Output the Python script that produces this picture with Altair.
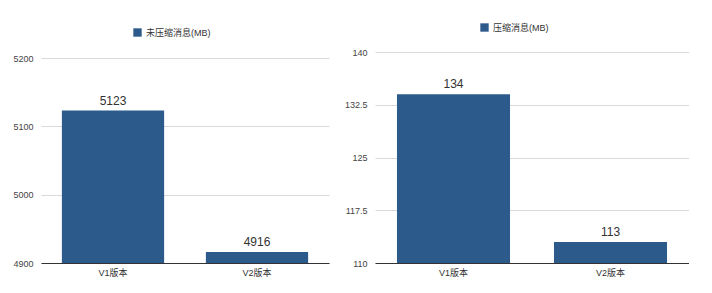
import altair as alt
import pandas as pd

categories = ["V1版本", "V2版本"]
uncompressed = [5123, 4916]
compressed = [134, 113]
series_left = "未压缩消息(MB)"
series_right = "压缩消息(MB)"
left_ticks = [4900, 5000, 5100, 5200]
right_ticks = [110, 117.5, 125, 132.5, 140]

BAR = "#2c5a8b"
FONT = "Liberation Sans, Helvetica, Arial, Noto Sans CJK SC"

df_l = pd.DataFrame({"cat": categories, "val": uncompressed, "series": [series_left] * 2})
df_r = pd.DataFrame({"cat": categories, "val": compressed, "series": [series_right] * 2})

H = 211


def panel(df, ticks, dom, rng, fmt, w, pin, pout, lx, ly, extent):
    base = alt.Chart(df).encode(
        x=alt.X("cat:N", sort=categories, title=None,
                scale=alt.Scale(paddingInner=pin, paddingOuter=pout),
                axis=alt.Axis(labelAngle=0, ticks=False, domain=True, domainColor="#333333",
                              labelFontSize=9, labelColor="#333333", labelPadding=5, grid=False)),
        y=alt.Y("val:Q", title=None,
                scale=alt.Scale(domain=dom, range=rng, zero=False, nice=False),
                axis=alt.Axis(values=ticks, format=fmt, ticks=False, domain=False, grid=True,
                              gridColor="#d9d9d9", labelFontSize=9, labelColor="#444444",
                              labelPadding=8, minExtent=extent, maxExtent=extent)),
    )
    bars = base.mark_bar(color=BAR, clip=True).encode(
        color=alt.Color("series:N", scale=alt.Scale(range=[BAR]),
                        legend=alt.Legend(title=None, orient="none", legendX=lx, legendY=ly,
                                          padding=0, symbolType="square", symbolSize=70,
                                          symbolStrokeWidth=0, labelFontSize=9,
                                          labelColor="#333333", direction="horizontal"))
    )
    labels = base.mark_text(baseline="bottom", dy=-3, fontSize=12, color="#333333").encode(
        text=alt.Text("val:Q")
    )
    return alt.layer(bars, labels).properties(width=w, height=H)


left = panel(df_l, left_ticks, [4900, 5200], [H, 6], "d", 288, 0.29, 0.145, 92, -24, 28)
right = panel(df_r, right_ticks, [110, 140], [H, 0], ".1~f", 314, 0.28, 0.14, 105, -29, 31)

chart = alt.hconcat(left, right, spacing=15).resolve_scale(
    color="independent", y="independent", x="independent"
).configure(
    font=FONT,
    padding={"left": 12, "top": 23, "right": 0, "bottom": 0},
).configure_view(stroke=None)

chart.save("out.html", embed_options={"renderer": "svg", "actions": False})
